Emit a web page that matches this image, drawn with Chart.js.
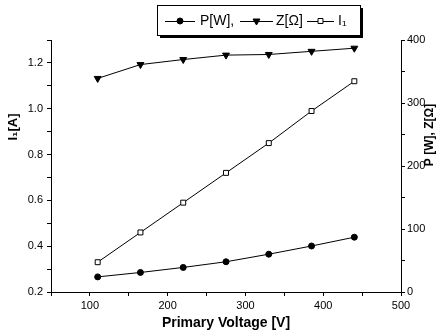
<html>
<head>
    <title>Primary Voltage</title>
    <script src="https://cdn.jsdelivr.net/npm/chart.js@4/dist/chart.umd.min.js"></script>
    <style>
        body { margin: 0; background: #fff; }
        #wrap { width: 438px; height: 332px; }
    </style>
</head>
<body>
    <div id="wrap"><canvas id="plotCanvas"></canvas></div>

    <script>
        // values
        const voltage = [110, 165, 220, 275, 330, 385, 440]
        const power = [24, 31, 39, 48, 60, 73, 87]          // P [W], right axis
        const impedance = [339, 361, 369, 376, 377, 382, 387] // Z [Ω], right axis
        const current = [0.33, 0.46, 0.59, 0.72, 0.85, 0.99, 1.12] // I1 [A], left axis

        const FONT = "'Liberation Sans', Arial, sans-serif"
        const toPoints = ys => voltage.map((x, i) => ({ x, y: ys[i] }))

        // draw the boxed legend and the two y titles by hand
        const decor = {
            id: 'decor',
            afterDraw(chart) {
                const ctx = chart.ctx
                ctx.save()

                // legend box with drop shadow
                ctx.fillStyle = '#000'
                ctx.fillRect(160, 8, 203, 30)
                ctx.fillStyle = '#fff'
                ctx.fillRect(157, 5, 203, 30)
                ctx.strokeStyle = '#000'
                ctx.lineWidth = 1
                ctx.strokeRect(157.5, 5.5, 203, 30)

                const items = [
                    { x0: 165, x1: 195, style: 'circle', r: 3, text: 'P[W],', tx: 200 },
                    { x0: 240, x1: 273, style: 'triangle', r: 4, rot: 180, text: 'Z[Ω]', tx: 276 },
                    { x0: 307, x1: 334, style: 'rect', r: 3.5, text: 'I₁', tx: 338 },
                ]
                const cy = 21
                items.forEach(it => {
                    ctx.beginPath()
                    ctx.moveTo(it.x0, cy + 0.5)
                    ctx.lineTo(it.x1, cy + 0.5)
                    ctx.strokeStyle = '#000'
                    ctx.stroke()
                    ctx.fillStyle = it.style === 'rect' ? '#fff' : '#000'
                    Chart.helpers.drawPoint(ctx, {
                        pointStyle: it.style,
                        radius: it.r,
                        rotation: it.rot || 0,
                        borderWidth: 1,
                    }, (it.x0 + it.x1) / 2, cy)
                    ctx.fillStyle = '#000'
                    ctx.font = `14px ${FONT}`
                    ctx.textBaseline = 'middle'
                    ctx.textAlign = 'left'
                    ctx.fillText(it.text, it.tx, cy)
                })

                // y axis titles
                ctx.textAlign = 'center'
                ctx.textBaseline = 'middle'
                ctx.font = `bold 13px ${FONT}`
                ctx.translate(13, 127)
                ctx.rotate(-Math.PI / 2)
                ctx.fillText('I₁[A]', 0, 0)
                ctx.setTransform(1, 0, 0, 1, 0, 0)
                ctx.font = `bold 12px ${FONT}`
                ctx.translate(430, 135)
                ctx.rotate(-Math.PI / 2)
                ctx.fillText('P [W], Z[Ω]', 0, 0)

                ctx.restore()
            },
        }

        const axisCommon = {
            border: { display: true, color: '#000', width: 1 },
            grid: { drawOnChartArea: false, tickLength: 4, color: '#000' },
        }

        const chart = new Chart(document.getElementById('plotCanvas'), {
            type: 'line',
            data: {
                datasets: [
                    {
                        label: 'P[W]',
                        data: toPoints(power),
                        yAxisID: 'y2',
                        borderColor: '#000',
                        backgroundColor: '#000',
                        borderWidth: 1,
                        pointStyle: 'circle',
                        pointRadius: 3,
                    },
                    {
                        label: 'Z[Ω]',
                        data: toPoints(impedance),
                        yAxisID: 'y2',
                        borderColor: '#000',
                        backgroundColor: '#000',
                        borderWidth: 1,
                        pointStyle: 'triangle',
                        pointRotation: 180,
                        pointRadius: 4,
                    },
                    {
                        label: 'I1',
                        data: toPoints(current),
                        yAxisID: 'y',
                        borderColor: '#000',
                        backgroundColor: '#fff',
                        borderWidth: 1,
                        pointStyle: 'rect',
                        pointRadius: 3.5,
                    },
                ],
            },
            options: {
                responsive: true,
                maintainAspectRatio: false,
                animation: false,
                layout: { padding: { top: 40, left: 0, right: 0, bottom: 0 } },
                plugins: { legend: { display: false }, tooltip: { enabled: false } },
                scales: {
                    x: {
                        ...axisCommon,
                        type: 'linear',
                        min: 50,
                        max: 500,
                        ticks: {
                            stepSize: 50,
                            autoSkip: false,
                            maxRotation: 0,
                            padding: 3,
                            color: '#000',
                            font: { family: FONT, size: 11 },
                            callback: v => (v % 100 === 0 ? v : ''),
                        },
                        title: {
                            display: true,
                            text: 'Primary Voltage [V]',
                            color: '#000',
                            font: { family: FONT, size: 14, weight: 'bold' },
                            padding: { top: 1, bottom: 0 },
                        },
                        afterFit: s => { s.height = 40 },
                    },
                    y: {
                        ...axisCommon,
                        position: 'left',
                        min: 0.2,
                        max: 1.3,
                        ticks: {
                            stepSize: 0.1,
                            autoSkip: false,
                            padding: 4,
                            color: '#000',
                            font: { family: FONT, size: 11 },
                            callback: v => (Math.round(v * 10) % 2 === 0 && v < 1.25 ? v.toFixed(1) : ''),
                        },
                        afterFit: s => { s.width = 51 },
                    },
                    y2: {
                        ...axisCommon,
                        position: 'right',
                        min: 0,
                        max: 400,
                        ticks: {
                            stepSize: 50,
                            autoSkip: false,
                            padding: 2,
                            color: '#000',
                            font: { family: FONT, size: 11 },
                            callback: v => (v % 100 === 0 ? v : ''),
                        },
                        afterFit: s => { s.width = 37 },
                    },
                },
            },
            plugins: [decor],
        })
    </script>
</body>
</html>
